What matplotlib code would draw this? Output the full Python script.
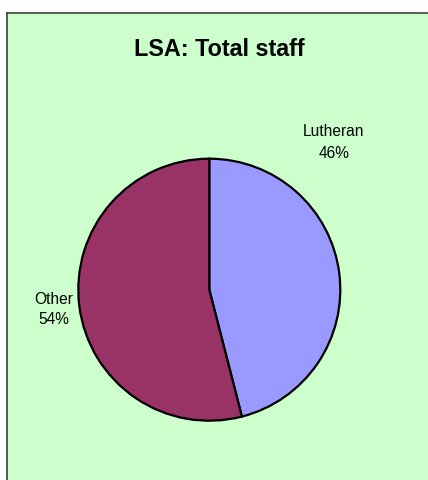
import matplotlib
matplotlib.use("Agg")
import matplotlib.pyplot as plt

categories = ["Lutheran", "Other"]
values = [46, 54]
colors = ["#9999FF", "#993366"]
title = "LSA: Total staff"

plt.rcParams['font.family'] = ['Liberation Sans', 'DejaVu Sans']

W, H = 428, 480
fig = plt.figure(figsize=(W / 100, H / 100), dpi=100, facecolor="white")

# chart area background with border (only top/left visible)
bgax = fig.add_axes([6.5 / W, -0.05, 1.1, 1 - 12.5 / H + 0.05], zorder=-5)
bgax.set_facecolor("#CCFFCC")
bgax.set_xticks([])
bgax.set_yticks([])
for s in bgax.spines.values():
    s.set_color("#404040")
    s.set_linewidth(1.2)

fig.text(219.5 / W, 1 - 50 / H, title, ha="center", va="center",
         fontsize=16.8, fontweight="bold")

cx, cy, r = 209.3, 289.7, 131
ax = fig.add_axes([(cx - r) / W, (H - cy - r) / H, 2 * r / W, 2 * r / H])
ax.set_facecolor("none")
ax.pie(values, colors=colors, startangle=90, counterclock=False,
       wedgeprops=dict(edgecolor="black", linewidth=1.6))
ax.set_xlim(-1, 1)
ax.set_ylim(-1, 1)
ax.set_aspect("equal")
ax.axis("off")

label_pos = [(334, 131, 153), (53.5, 299, 320)]
for cat, v, (lx, ly1, ly2) in zip(categories, values, label_pos):
    fig.text(lx / W, 1 - ly1 / H, cat, ha="center", va="center", fontsize=11.2)
    fig.text(lx / W, 1 - ly2 / H, f"{v}%", ha="center", va="center", fontsize=11.2)

fig.savefig("out.png", dpi=100, facecolor="white")
